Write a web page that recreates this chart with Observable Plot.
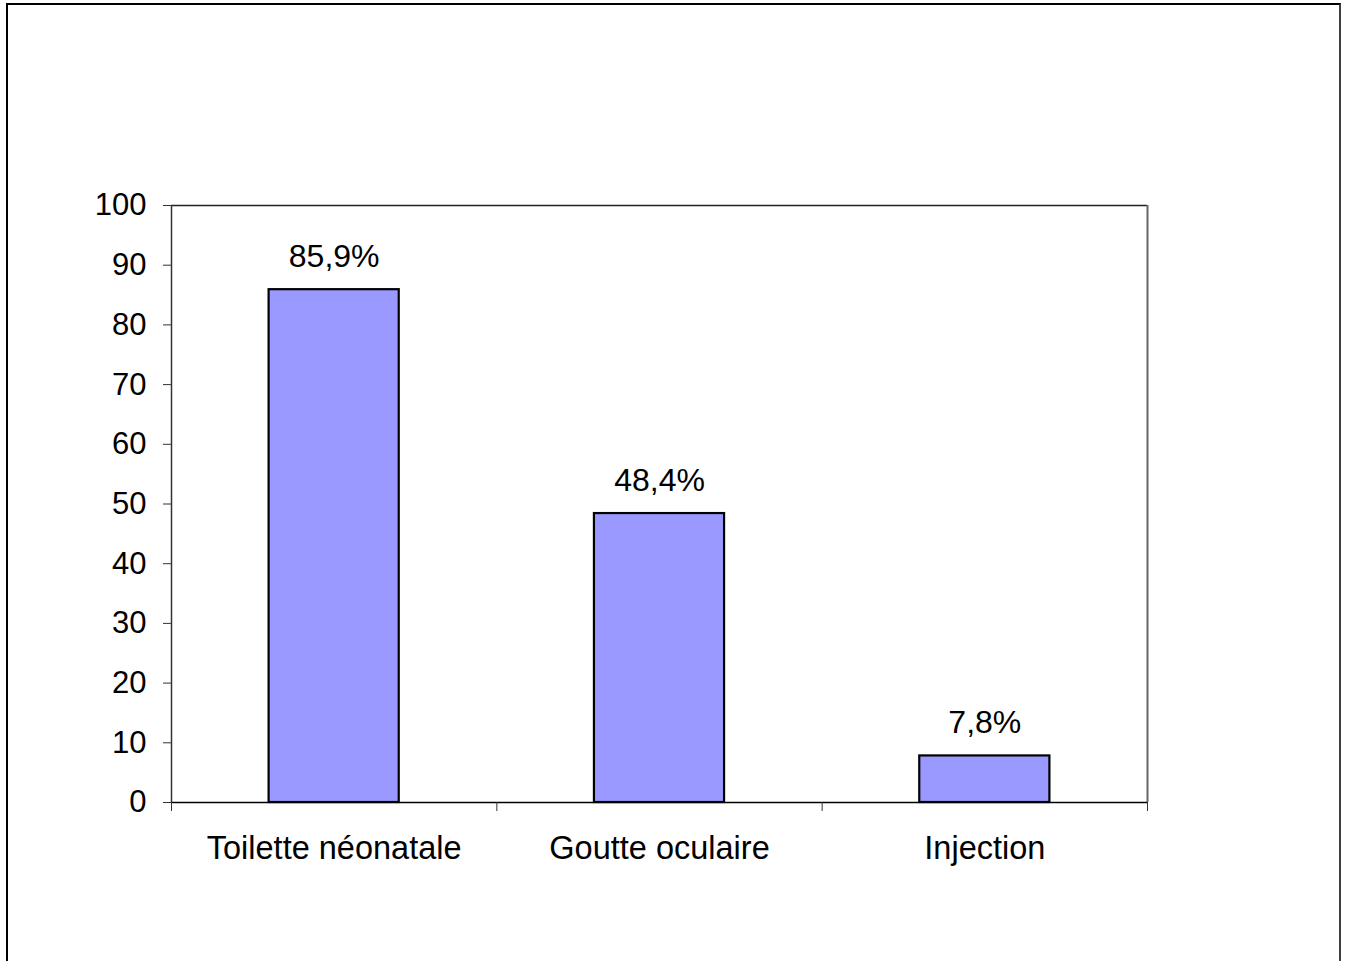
<!DOCTYPE html>
<html>
<head>
<meta charset="utf-8">
<script src="https://cdn.jsdelivr.net/npm/d3@7"></script>
<script src="https://cdn.jsdelivr.net/npm/@observablehq/plot@0.6"></script>
<style>
  html, body { margin: 0; padding: 0; background: #fff; }
  #page { position: relative; width: 1346px; height: 961px; overflow: hidden; font-family: "Liberation Sans", Arial, sans-serif; }
  #border { position: absolute; left: 6px; top: 3px; width: 1335px; height: 1000px; border: 2px solid #000; border-right-color: #404040; box-sizing: border-box; }
  #chart { position: absolute; left: 0; top: 0; }
</style>
</head>
<body>
<div id="page">
  <div id="border"></div>
  <div id="chart"></div>
</div>
<script>
// Categories and their percentages
const categories = ["Toilette néonatale", "Goutte oculaire", "Injection"];
const values = [85.9, 48.4, 7.8];
const valueLabels = ["85,9%", "48,4%", "7,8%"];
const yTicks = [0, 10, 20, 30, 40, 50, 60, 70, 80, 90, 100];

const rows = categories.map((c, i) => ({category: c, index: i, value: values[i], label: valueLabels[i]}));

// Each category occupies one unit on x; the bar fills the middle 40 %
const barGap = 0.3;

const chart = Plot.plot({
  width: 1346,
  height: 961,
  marginLeft: 171,
  marginRight: 199,
  marginTop: 205,
  marginBottom: 159,
  style: {fontFamily: "'Liberation Sans', Arial, sans-serif", fontSize: "31px", color: "#000", background: "transparent"},
  x: {domain: [0, categories.length]},
  y: {domain: [0, 100]},
  marks: [
    // plot-area outline
    Plot.ruleY([100], {stroke: "#222", strokeWidth: 1.5}),
    Plot.ruleX([categories.length], {stroke: "#666", strokeWidth: 2}),
    Plot.ruleX([0], {stroke: "#333", strokeWidth: 1.5}),
    // bars
    Plot.rectY(rows, {
      x1: d => d.index + barGap,
      x2: d => d.index + 1 - barGap,
      y: "value",
      fill: "#9999FF",
      stroke: "#000",
      strokeWidth: 2.2
    }),
    Plot.ruleY([0], {stroke: "#000", strokeWidth: 1.5}),
    // value labels above bars
    Plot.text(rows, {
      x: d => d.index + 0.5,
      y: "value",
      text: "label",
      dy: -33,
      fontSize: 32,
      fill: "#000"
    }),
    // y axis
    Plot.axisY({ticks: yTicks, tickSize: 8, tickPadding: 17, tickFormat: d => String(d), label: null, fontSize: 31, stroke: "#333"}),
    // category boundary ticks
    Plot.axisX({ticks: d3.range(categories.length + 1), tickSize: 9, tickFormat: () => "", label: null, stroke: "#333"}),
    // category names
    Plot.axisX({ticks: categories.map((c, i) => i + 0.5), tickSize: 0, tickPadding: 33, tickFormat: v => categories[Math.floor(v)], label: null, fontSize: 32.5})
  ]
});

document.getElementById("chart").appendChild(chart);
</script>
</body>
</html>
